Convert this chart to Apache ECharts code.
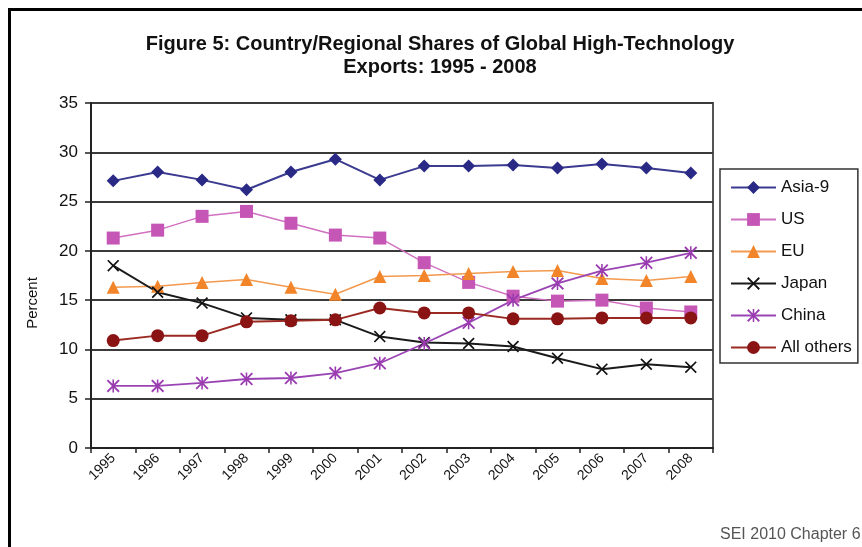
<!DOCTYPE html>
<html>
<head>
<meta charset="utf-8">
<style>
  html, body { margin: 0; padding: 0; background: #fff; }
  #chart { width: 862px; height: 547px; }
</style>
<script src="https://cdn.jsdelivr.net/npm/echarts@6/dist/echarts.min.js"></script>
</head>
<body>
<div id="chart"></div>
<script>
// Years on the category axis
const years = ['1995','1996','1997','1998','1999','2000','2001','2002','2003','2004','2005','2006','2007','2008'];

// Share of global high-technology exports, percent
const asia9     = [27.1, 28.0, 27.2, 26.2, 28.0, 29.3, 27.2, 28.6, 28.6, 28.7, 28.4, 28.8, 28.4, 27.9];
const us        = [21.3, 22.1, 23.5, 24.0, 22.8, 21.6, 21.3, 18.8, 16.8, 15.4, 14.9, 15.0, 14.2, 13.8];
const eu        = [16.3, 16.4, 16.8, 17.1, 16.3, 15.6, 17.4, 17.5, 17.7, 17.9, 18.0, 17.2, 17.0, 17.4];
const japan     = [18.5, 15.8, 14.7, 13.2, 13.0, 13.0, 11.3, 10.7, 10.6, 10.3, 9.1, 8.0, 8.5, 8.2];
const china     = [6.3, 6.3, 6.6, 7.0, 7.1, 7.6, 8.6, 10.6, 12.7, 15.0, 16.7, 18.0, 18.8, 19.8];
const allOthers = [10.9, 11.4, 11.4, 12.8, 12.9, 13.0, 14.2, 13.7, 13.7, 13.1, 13.1, 13.2, 13.2, 13.2];

// Y axis tick range
const yMin = 0, yMax = 35, yStep = 5;

// Marker shapes: a cross and an asterisk
const crossPath = 'path://M0,1 L1,0 L5,4 L9,0 L10,1 L6,5 L10,9 L9,10 L5,6 L1,10 L0,9 L4,5 Z';
const starPath = 'path://M0,1 L1,0 L5,4 L9,0 L10,1 L6,5 L10,9 L9,10 L5,6 L1,10 L0,9 L4,5 Z M4.4,0 L5.6,0 L5.6,10 L4.4,10 Z';

const FONT = 'Liberation Sans, Arial, sans-serif';

function lineSeries(name, data, color, lineColor, symbol, size, width) {
  return {
    name: name,
    type: 'line',
    data: data,
    symbol: symbol,
    symbolSize: size,
    showSymbol: true,
    animation: false,
    lineStyle: { color: lineColor, width: width },
    itemStyle: { color: color, borderColor: color, borderWidth: 0 },
    emphasis: { disabled: true }
  };
}

const chart = echarts.init(document.getElementById('chart'), null, { renderer: 'canvas' });

chart.setOption({
  backgroundColor: '#ffffff',
  animation: false,
  title: {
    text: 'Figure 5: Country/Regional Shares of Global High-Technology\nExports: 1995 - 2008',
    left: 435,
    top: 28,
    textAlign: 'center',
    textStyle: {
      fontFamily: FONT,
      fontSize: 20,
      fontWeight: 'bold',
      color: '#111',
      lineHeight: 23
    }
  },
  legend: {
    orient: 'vertical',
    left: 720,
    top: 169,
    padding: [10, 6, 7, 10],
    itemGap: 15,
    itemWidth: 45,
    itemHeight: 16,
    borderColor: '#333',
    borderWidth: 1.5,
    backgroundColor: '#fff',
    textStyle: { fontFamily: FONT, fontSize: 17, color: '#111' },
    data: ['Asia-9', 'US', 'EU', 'Japan', 'China', 'All others']
  },
  grid: {
    left: 91,
    right: 149,
    top: 103,
    bottom: 99,
    show: true,
    borderColor: '#555',
    borderWidth: 2,
    backgroundColor: '#fff'
  },
  xAxis: {
    type: 'category',
    data: years,
    boundaryGap: true,
    axisLine: { lineStyle: { color: '#222', width: 2 } },
    axisTick: { show: true, length: 5, lineStyle: { color: '#222', width: 1.5 } },
    axisLabel: {
      rotate: 45,
      margin: 8,
      fontFamily: FONT,
      fontSize: 14,
      color: '#111',
      interval: 0
    }
  },
  yAxis: {
    type: 'value',
    min: yMin,
    max: yMax,
    interval: yStep,
    axisLine: { show: true, lineStyle: { color: '#222', width: 2 } },
    axisTick: { show: true, length: 6, lineStyle: { color: '#222', width: 1.5 } },
    axisLabel: { margin: 13, fontFamily: FONT, fontSize: 17, color: '#111' },
    splitLine: { show: true, lineStyle: { color: '#3a3a3a', width: 2 } }
  },
  series: [
    lineSeries('Asia-9', asia9, '#2a2a86', '#3a3a90', 'diamond', 13, 2),
    lineSeries('US', us, '#c656b6', '#d070c0', 'rect', 13, 1.5),
    lineSeries('EU', eu, '#f2852a', '#f39a4e', 'triangle', 13, 1.5),
    lineSeries('Japan', japan, '#111111', '#1a1a1a', crossPath, 12, 2),
    lineSeries('China', china, '#9a3cb0', '#9a44b4', starPath, 13, 1.8),
    lineSeries('All others', allOthers, '#8a1414', '#9a2a22', 'circle', 13, 2)
  ],
  graphic: [
    {
      type: 'line',
      shape: { x1: 9, y1: 9.5, x2: 862, y2: 9.5 },
      style: { stroke: '#000', lineWidth: 3 },
      silent: true
    },
    {
      type: 'line',
      shape: { x1: 9.5, y1: 8, x2: 9.5, y2: 547 },
      style: { stroke: '#000', lineWidth: 3 },
      silent: true
    },
    {
      // Y axis title
      type: 'text',
      x: 33,
      y: 303,
      rotation: Math.PI / 2,
      style: {
        text: 'Percent',
        font: '15px ' + FONT,
        fill: '#111',
        align: 'center',
        verticalAlign: 'middle'
      },
      silent: true
    },
    {
      type: 'text',
      left: 720,
      top: 527,
      style: {
        text: 'SEI 2010 Chapter 6',
        font: '16px ' + FONT,
        fill: '#555'
      },
      silent: true
    }
  ]
});
</script>
</body>
</html>
